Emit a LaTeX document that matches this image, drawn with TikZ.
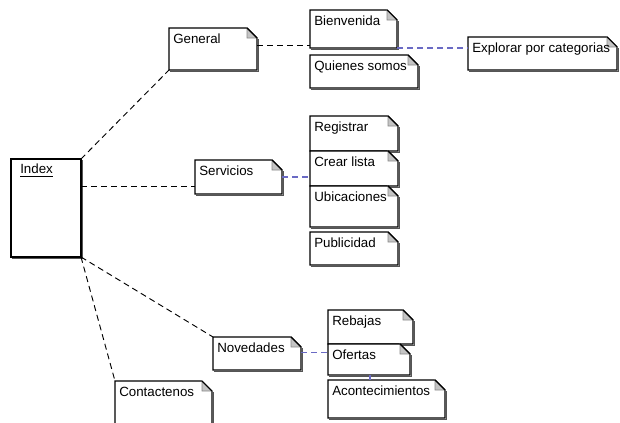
\documentclass[tikz,border=0pt]{standalone}
\usepackage{fontspec}
\setmainfont{Liberation Sans}
\usepackage{tikz}
\usetikzlibrary{calc}
\usepackage[rgb]{xcolor}
\definecolor{fg}{HTML}{000000}
\definecolor{bg}{HTML}{FFFFFF}
\definecolor{lk}{HTML}{6A6AC4}
\definecolor{fd}{HTML}{C4C4C4}
\definecolor{sh}{HTML}{555555}

\tikzset{
  box/.style={inner sep=0, outer sep=0, anchor=north west, draw=none},
  noteline/.style={draw=fg, fill=bg, line width=0.8pt},
  shade/.style={draw=sh, line width=0.5pt},
  fold/.style={fill=fd, draw=fd!70!fg, line width=0.4pt},
  notetext/.style={inner sep=0, anchor=north west, font=\fontsize{10}{12}\selectfont},
  link/.style={draw=fg, dash pattern=on 4.5pt off 3pt, line width=0.7pt},
  bluelink/.style={draw=lk, dash pattern=on 4.5pt off 3pt, line width=0.9pt},
}

\newcommand{\notebox}[6]{%
  \node[box, minimum width=#4*0.75pt, minimum height=#5*0.75pt] (#1) at (#2,#3) {};
  \draw[shade] ($(#1.north east)+(1,11)$) -- ($(#1.south east)+(1,1)$) -- ($(#1.south west)+(1,1)$);
  \draw[noteline] (#1.north west) -- ($(#1.north east)+(-10,0)$) -- ($(#1.north east)+(0,10)$) -- (#1.south east) -- (#1.south west) -- cycle;
  \filldraw[fold] ($(#1.north east)+(-10,0)$) -- ($(#1.north east)+(-10,10)$) -- ($(#1.north east)+(0,10)$) -- cycle;
  \draw[draw=fg, line width=0.8pt] ($(#1.north east)+(-10,0)$) -- ($(#1.north east)+(0,10)$);
  \node[notetext] at ($(#1.north west)+(4,6)$) {#6};
}

\begin{document}
\begin{tikzpicture}[x=0.75pt, y=-0.75pt]
  \useasboundingbox (0,0) rectangle (620,422);
  \clip (0,0) rectangle (620,422);
  \fill[bg] (0,0) rectangle (620,422);

  \node[box, minimum width=70*0.75pt, minimum height=98*0.75pt] (index) at (11,159) {};
  \draw[shade] ($(index.north east)+(1,1)$) -- ($(index.south east)+(1,1)$) -- ($(index.south west)+(1,1)$);
  \draw[noteline] (index.north west) rectangle (index.south east);
  \node[notetext] at ($(index.north west)+(9,5)$) {\underline{Index}};

  \notebox{general}{169}{28}{88}{42}{General}
  \notebox{bienvenida}{310}{10}{87}{38}{Bienvenida}
  \notebox{quienes}{310}{55}{108}{33}{Quienes somos}
  \notebox{explorar}{468}{37}{149}{33}{Explorar por categorias}

  \notebox{servicios}{195}{160}{87}{34}{Servicios}
  \notebox{registrar}{310}{116}{88}{35}{Registrar}
  \notebox{crear}{310}{151}{88}{35}{Crear lista}
  \notebox{ubicaciones}{310}{186}{88}{41}{Ubicaciones}
  \notebox{publicidad}{310}{232}{88}{33}{Publicidad}

  \notebox{novedades}{213}{337}{88}{33}{Novedades}
  \notebox{rebajas}{328}{310}{85}{34}{Rebajas}
  \notebox{ofertas}{328}{344}{82}{31}{Ofertas}
  \notebox{aconte}{328}{380}{117}{38}{Acontecimientos}

  \notebox{contactenos}{115}{381}{97}{60}{Contactenos}

  \draw[link] (index.north east) -- (general.south west);
  \coordinate (g1) at ($(general.east)+(0,-4)$);
  \draw[link] (g1) -- (bienvenida.west |- g1);
  \draw[bluelink] (bienvenida.south east) -- (explorar.west |- bienvenida.south east);

  \coordinate (s1) at ($(servicios.west)+(0,9)$);
  \draw[link] (index.east |- s1) -- (s1);
  \draw[bluelink] (servicios.east) -- (crear.west |- servicios.east);

  \draw[link] (index.south east) -- (novedades.north west);
  \coordinate (n1) at ($(novedades.east)+(0,-1)$);
  \draw[bluelink] (n1) -- (ofertas.west |- n1);
  \coordinate (o1) at ($(ofertas.south west)+(42,0)$);
  \draw[draw=lk, line width=0.9pt] (o1) -- (aconte.north west -| o1);

  \draw[link] (index.south east) -- (contactenos.north west);
\end{tikzpicture}
\end{document}
